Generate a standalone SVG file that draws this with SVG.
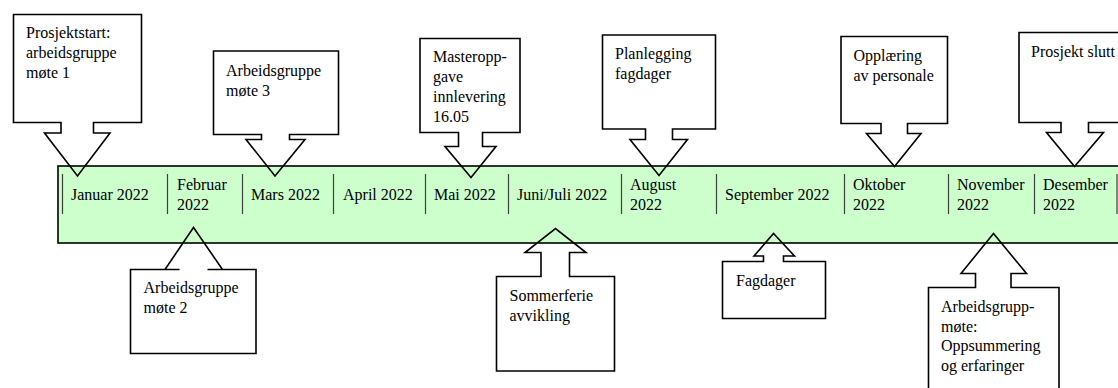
<svg xmlns="http://www.w3.org/2000/svg" width="1118" height="388" viewBox="0 0 1118 388" font-family="'Liberation Serif', 'DejaVu Serif', serif" font-size="16">
  <style>
    .bar { fill: #ccffcc; stroke: #000; stroke-width: 1.6; }
    .tick { stroke: #404040; stroke-width: 1.2; }
    .callout { fill: none; stroke: #000; stroke-width: 1.6; stroke-linejoin: miter; }
    .lbl { font-family: 'Liberation Serif', 'DejaVu Serif', serif; font-size: 16px; fill: #000; }
  </style>

  <!-- timeline band with month cells -->
  <g id="timeline">
    <rect class="bar" x="58" y="166" width="1080" height="77"/>
    <g class="ticks">
      <line class="tick" x1="62.5" y1="174" x2="62.5" y2="214"/>
      <line class="tick" x1="167.5" y1="174" x2="167.5" y2="214"/>
      <line class="tick" x1="242.5" y1="174" x2="242.5" y2="214"/>
      <line class="tick" x1="333.5" y1="174" x2="333.5" y2="214"/>
      <line class="tick" x1="425.5" y1="174" x2="425.5" y2="214"/>
      <line class="tick" x1="508.5" y1="174" x2="508.5" y2="214"/>
      <line class="tick" x1="621.5" y1="174" x2="621.5" y2="214"/>
      <line class="tick" x1="716.5" y1="174" x2="716.5" y2="214"/>
      <line class="tick" x1="844.5" y1="174" x2="844.5" y2="214"/>
      <line class="tick" x1="948.5" y1="174" x2="948.5" y2="214"/>
      <line class="tick" x1="1034.5" y1="174" x2="1034.5" y2="214"/>
      <line class="tick" x1="1117" y1="174" x2="1117" y2="214"/>
    </g>
    <g class="months">
      <text class="lbl" x="71" y="200">Januar 2022</text>
      <text class="lbl" x="177" y="190">Februar</text>
      <text class="lbl" x="177" y="210">2022</text>
      <text class="lbl" x="251" y="200">Mars 2022</text>
      <text class="lbl" x="343" y="200">April 2022</text>
      <text class="lbl" x="434" y="200">Mai 2022</text>
      <text class="lbl" x="517" y="200">Juni/Juli 2022</text>
      <text class="lbl" x="630" y="190">August</text>
      <text class="lbl" x="630" y="210">2022</text>
      <text class="lbl" x="725" y="200">September 2022</text>
      <text class="lbl" x="853" y="190">Oktober</text>
      <text class="lbl" x="853" y="210">2022</text>
      <text class="lbl" x="957" y="190">November</text>
      <text class="lbl" x="957" y="210">2022</text>
      <text class="lbl" x="1043" y="190">Desember</text>
      <text class="lbl" x="1043" y="210">2022</text>
    </g>
  </g>

  <!-- callouts pointing down onto the band -->
  <g id="node-prosjektstart">
    <path class="callout" d="M13.5,14.5 H141.5 V122.5 H93.5 V133 H110 L77.5,176 L44.5,133 H61 V122.5 H13.5 Z"/>
    <text class="lbl" x="26" y="38">Prosjektstart:</text>
    <text class="lbl" x="26" y="58">arbeidsgruppe</text>
    <text class="lbl" x="26" y="78">møte 1</text>
  </g>

  <g id="node-mote3">
    <path class="callout" d="M213.5,51 H338.5 V134.5 H289.5 V139.5 H305 L275,176 L246,139.5 H261.5 V134.5 H213.5 Z"/>
    <text class="lbl" x="226" y="76">Arbeidsgruppe</text>
    <text class="lbl" x="226" y="96">møte 3</text>
  </g>

  <g id="node-masteroppgave">
    <path class="callout" d="M420,38.5 H520 V132.5 H482.5 V146.5 H496 L471,177.5 L445,146.5 H458.5 V132.5 H420 Z"/>
    <text class="lbl" x="433" y="62">Masteropp-</text>
    <text class="lbl" x="433" y="82">gave</text>
    <text class="lbl" x="433" y="102">innlevering</text>
    <text class="lbl" x="433" y="122">16.05</text>
  </g>

  <g id="node-planlegging">
    <path class="callout" d="M602.5,35 H715.5 V129 H672.5 V139.5 H687.5 L659,175.5 L630,139.5 H645.5 V129 H602.5 Z"/>
    <text class="lbl" x="615" y="59">Planlegging</text>
    <text class="lbl" x="615" y="79">fagdager</text>
  </g>

  <g id="node-opplaering">
    <path class="callout" d="M841,36.5 H947.5 V123.5 H907.5 V133.5 H921 L894.5,166.5 L866.5,133.5 H881 V123.5 H841 Z"/>
    <text class="lbl" x="853.5" y="60.5">Opplæring</text>
    <text class="lbl" x="853.5" y="80.5">av personale</text>
  </g>

  <g id="node-prosjektslutt">
    <path class="callout" d="M1019,32.5 H1131 V122.5 H1088.5 V132.5 H1103.5 L1074.5,166.5 L1046.5,132.5 H1061 V122.5 H1019 Z"/>
    <text class="lbl" x="1031" y="56.5">Prosjekt slutt</text>
  </g>

  <!-- callouts pointing up onto the band -->
  <g id="node-mote2">
    <path class="callout" d="M130.5,353.5 H256 V269.5 H207.5 H222.5 L193.5,227.5 L165,269.5 H179.5 H130.5 Z"/>
    <text class="lbl" x="143.5" y="293">Arbeidsgruppe</text>
    <text class="lbl" x="143.5" y="313">møte 2</text>
  </g>

  <g id="node-sommerferie">
    <path class="callout" d="M496.5,371 H614.5 V276.5 H569.5 V252.5 H586 L555.5,228.5 L525,252.5 H541 V276.5 H496.5 Z"/>
    <text class="lbl" x="509.5" y="300.5">Sommerferie</text>
    <text class="lbl" x="509.5" y="320.5">avvikling</text>
  </g>

  <g id="node-fagdager">
    <path class="callout" d="M722.5,318.5 H825.5 V261.5 H783.5 V256 H794.5 L773.5,233.5 L754,256 H763.5 V261.5 H722.5 Z"/>
    <text class="lbl" x="736" y="285.5">Fagdager</text>
  </g>

  <g id="node-oppsummering">
    <path class="callout" d="M928.5,395 H1059 V287.5 H1011 V273.5 H1026.5 L993.5,233.5 L961,273.5 H975.5 V287.5 H928.5 Z"/>
    <text class="lbl" x="941" y="312">Arbeidsgrupp-</text>
    <text class="lbl" x="941" y="331.5">møte:</text>
    <text class="lbl" x="941" y="351">Oppsummering</text>
    <text class="lbl" x="941" y="370.5">og erfaringer</text>
  </g>

  <g id="connectors"/>
</svg>
